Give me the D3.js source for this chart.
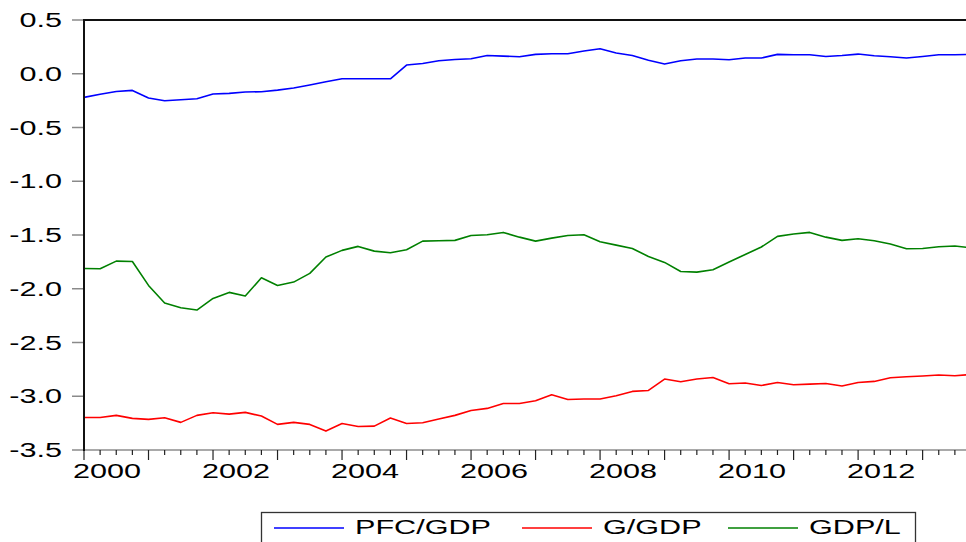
<!DOCTYPE html>
<html>
<head>
<meta charset="utf-8">
<script src="https://cdn.jsdelivr.net/npm/d3@7"></script>
<style>
  html, body { margin: 0; padding: 0; background: #fff; overflow: hidden; }
  svg { display: block; }
  text { font-family: "Liberation Sans", Arial, sans-serif; fill: #000; }
</style>
</head>
<body>
<svg id="chart" width="966" height="542"></svg>
<script>
// Quarterly observations, 2000Q1 – 2013Q4
const years = [2000, 2001, 2002, 2003, 2004, 2005, 2006, 2007, 2008, 2009, 2010, 2011, 2012, 2013];
const quarters = years.flatMap(y => ["Q1", "Q2", "Q3", "Q4"].map(q => y + q));

const pfcGdp = [
  -0.22, -0.19, -0.165, -0.155, -0.226, -0.251, -0.242, -0.233,
  -0.189, -0.183, -0.170, -0.167, -0.152, -0.133, -0.105, -0.074,
  -0.047, -0.047, -0.047, -0.047, 0.081, 0.096, 0.121, 0.133,
  0.140, 0.170, 0.164, 0.158, 0.180, 0.186, 0.186, 0.211,
  0.233, 0.193, 0.170, 0.125, 0.090, 0.121, 0.137, 0.137,
  0.130, 0.146, 0.146, 0.180, 0.177, 0.177, 0.161, 0.170,
  0.183, 0.167, 0.158, 0.146, 0.161, 0.177, 0.177, 0.180
];

const gGdp = [
  -3.197, -3.197, -3.178, -3.206, -3.215, -3.200, -3.243, -3.178,
  -3.153, -3.166, -3.150, -3.184, -3.262, -3.243, -3.262, -3.324,
  -3.253, -3.281, -3.278, -3.203, -3.253, -3.247, -3.212, -3.178,
  -3.132, -3.113, -3.067, -3.067, -3.042, -2.986, -3.030, -3.026,
  -3.026, -2.995, -2.955, -2.946, -2.840, -2.865, -2.840, -2.825,
  -2.884, -2.877, -2.900, -2.872, -2.893, -2.887, -2.881, -2.905,
  -2.872, -2.862, -2.828, -2.819, -2.812, -2.803, -2.809, -2.797
];

const gdpL = [
  -1.811, -1.814, -1.743, -1.746, -1.969, -2.133, -2.177, -2.198,
  -2.090, -2.034, -2.068, -1.898, -1.969, -1.938, -1.857, -1.705,
  -1.643, -1.606, -1.650, -1.665, -1.637, -1.557, -1.553, -1.550,
  -1.504, -1.498, -1.476, -1.520, -1.557, -1.529, -1.504, -1.498,
  -1.563, -1.594, -1.625, -1.700, -1.755, -1.839, -1.845, -1.823,
  -1.752, -1.681, -1.612, -1.513, -1.491, -1.476, -1.520, -1.550,
  -1.535, -1.553, -1.584, -1.628, -1.625, -1.609, -1.603, -1.619
];

const yTicks = [0.5, 0.0, -0.5, -1.0, -1.5, -2.0, -2.5, -3.0, -3.5];
const xLabelYears = [2000, 2002, 2004, 2006, 2008, 2010, 2012];

const series = [
  { name: "PFC/GDP", values: pfcGdp, color: "#0000ff" },
  { name: "G/GDP",   values: gGdp,   color: "#ff0000" },
  { name: "GDP/L",   values: gdpL,   color: "#008000" }
];

// Glyphs are drawn wide, as in the exported graph
const STRETCH = 1.57;
const FONT = 19.5;

const svg = d3.select("#chart");

const x = d3.scalePoint().domain(quarters).range([84, 971]);
const y = d3.scaleLinear().domain([-3.5, 0.5]).range([450, 20]);

// Plot frame: top border and left axis
svg.append("line")
  .attr("x1", 84).attr("x2", 971).attr("y1", y(0.5)).attr("y2", y(0.5))
  .attr("stroke", "#111").attr("stroke-width", 2);

// Series lines
const line = d3.line()
  .x((d, i) => x(quarters[i]))
  .y(d => y(d));

svg.append("g").selectAll("path")
  .data(series)
  .join("path")
  .attr("d", s => line(s.values))
  .attr("fill", "none")
  .attr("stroke", s => s.color)
  .attr("stroke-width", 1.6)
  .attr("stroke-linejoin", "round");

// Y axis
const yAxis = svg.append("g");
yAxis.selectAll("line.tick")
  .data(yTicks)
  .join("line")
  .attr("class", "tick")
  .attr("x1", 72).attr("x2", 84)
  .attr("y1", d => y(d)).attr("y2", d => y(d))
  .attr("stroke", "#8a8a8a").attr("stroke-width", 1.5);
yAxis.selectAll("text")
  .data(yTicks)
  .join("text")
  .attr("transform", d => `translate(62,${y(d)}) scale(${STRETCH},1)`)
  .attr("dy", "0.36em")
  .attr("text-anchor", "end")
  .attr("font-size", FONT)
  .text(d => d.toFixed(1));

// X axis: baseline, quarterly minor ticks and yearly major ticks
const xAxis = svg.append("g");
xAxis.append("line")
  .attr("x1", 84).attr("x2", 971).attr("y1", 450).attr("y2", 450)
  .attr("stroke", "#555").attr("stroke-width", 1.2);
xAxis.selectAll("line.tick")
  .data(quarters)
  .join("line")
  .attr("class", "tick")
  .attr("x1", d => x(d)).attr("x2", d => x(d))
  .attr("y1", 450)
  .attr("y2", d => d.endsWith("Q1") ? 460 : 455)
  .attr("stroke", "#222").attr("stroke-width", 1.2);
xAxis.selectAll("text")
  .data(xLabelYears)
  .join("text")
  .attr("transform", d => `translate(${x(d + "Q1") + 23},478) scale(${STRETCH},1)`)
  .attr("text-anchor", "middle")
  .attr("font-size", FONT)
  .text(d => d);

// Left axis drawn last so it sits on top of the line starts
svg.append("line")
  .attr("x1", 84).attr("x2", 84).attr("y1", 19).attr("y2", 451)
  .attr("stroke", "#111").attr("stroke-width", 2);

// Legend
const legend = svg.append("g");
legend.append("rect")
  .attr("x", 261.5).attr("y", 512.5).attr("width", 654).attr("height", 40)
  .attr("fill", "#fff").attr("stroke", "#333").attr("stroke-width", 1.3);

const legendLineStart = [274, 522, 728];
const legendItems = legend.selectAll("g.item")
  .data(series)
  .join("g")
  .attr("class", "item");
legendItems.append("line")
  .attr("x1", (d, i) => legendLineStart[i])
  .attr("x2", (d, i) => legendLineStart[i] + 70)
  .attr("y1", 528).attr("y2", 528)
  .attr("stroke", d => d.color).attr("stroke-width", 1.3);
legendItems.append("text")
  .attr("transform", (d, i) => `translate(${legendLineStart[i] + 81},534) scale(${STRETCH},1)`)
  .attr("font-size", FONT)
  .text(d => d.name);
</script>
</body>
</html>
